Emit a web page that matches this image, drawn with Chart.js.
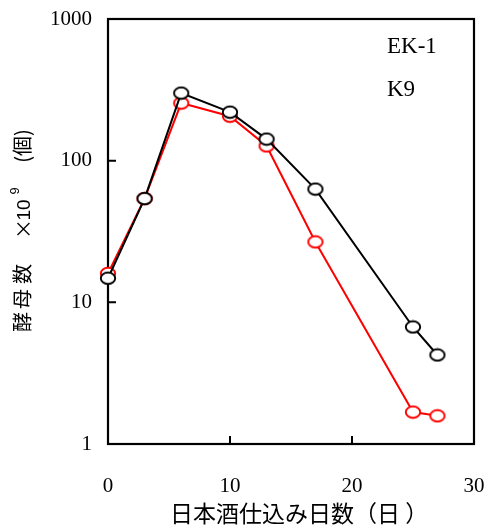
<!DOCTYPE html>
<html>
<head>
<meta charset="utf-8">
<script src="https://cdn.jsdelivr.net/npm/chart.js@4.4.1/dist/chart.umd.min.js"></script>
<style>
  html, body { margin: 0; padding: 0; background: #fff; }
  #wrap { width: 488px; height: 525px; }
</style>
</head>
<body>
<div id="wrap"><canvas id="grafico"></canvas></div>
<script>
const days = [0, 3, 6, 10, 13, 17, 25, 27];
const ek1 = [14.8, 54, 300, 220, 142, 63, 6.7, 4.25];
const k9 = [16, 54, 255, 206, 127, 26.7, 1.68, 1.58];
const seriesNames = ["EK-1", "K9"];
const yTicks = [1, 10, 100, 1000];
const xTicks = [0, 10, 20, 30];

const serif = "'Liberation Serif', 'DejaVu Serif', serif";
const sans = "'Noto Sans CJK JP', 'Noto Sans', sans-serif";

function ellipseMarker(color) {
    const c = document.createElement("canvas");
    c.width = 18;
    c.height = 15;
    const g = c.getContext("2d");
    g.beginPath();
    g.ellipse(9, 7.5, 7.2, 5.7, 0, 0, Math.PI * 2);
    g.fillStyle = "#fff";
    g.fill();
    g.lineWidth = 1.9;
    g.strokeStyle = color;
    g.stroke();
    return c;
}

const framePlugin = {
    id: "frame",
    beforeDatasetsDraw(chart) {
        const { ctx, chartArea: a, scales } = chart;
        ctx.save();
        ctx.strokeStyle = "#000";
        ctx.lineWidth = 2.2;
        ctx.strokeRect(a.left, a.top, a.right - a.left, a.bottom - a.top);
        ctx.lineWidth = 2;
        ctx.beginPath();
        yTicks.forEach(v => {
            const y = scales.y.getPixelForValue(v);
            ctx.moveTo(a.left, y);
            ctx.lineTo(a.left + 8, y);
        });
        xTicks.forEach(v => {
            const x = scales.x.getPixelForValue(v);
            ctx.moveTo(x, a.bottom);
            ctx.lineTo(x, a.bottom - 8);
        });
        ctx.stroke();
        ctx.restore();
    },
    afterDraw(chart) {
        const ctx = chart.ctx;
        ctx.save();
        ctx.fillStyle = "#000";
        // legend texts
        ctx.font = "23px " + serif;
        ctx.textAlign = "left";
        ctx.textBaseline = "middle";
        ctx.fillText(seriesNames[0], 387, 47);
        ctx.fillText(seriesNames[1], 387, 90);

        // x title
        ctx.font = "23px " + sans;
        ctx.textBaseline = "middle";
        ctx.fillText("日本酒仕込み日数（日 ）", 170, 513);

        // y title (rotated)
        ctx.translate(22, 0);
        ctx.rotate(-Math.PI / 2);
        ctx.textAlign = "center";
        ctx.textBaseline = "middle";
        ctx.font = "20px " + sans;
        ctx.fillText("酵", -322, 0);
        ctx.fillText("母", -299, 0);
        ctx.fillText("数", -274, 0);
        ctx.fillText("×", -229, 1);
        ctx.font = "19px 'Liberation Sans', Arial, sans-serif";
        ctx.fillText("10", -210, 3);
        ctx.font = "13px 'Liberation Sans', Arial, sans-serif";
        ctx.fillText("9", -191, -7);
        ctx.font = "20px " + sans;
        ctx.fillText("(個)", -146, 0);
        ctx.restore();
    }
};

new Chart(document.getElementById("grafico"), {
    type: "line",
    data: {
        datasets: [
            {
                label: seriesNames[0],
                data: days.map((d, i) => ({ x: d, y: ek1[i] })),
                borderColor: "#000",
                borderWidth: 2,
                pointStyle: ellipseMarker("#000"),
                tension: 0,
                clip: false,
                order: 0
            },
            {
                label: seriesNames[1],
                data: days.map((d, i) => ({ x: d, y: k9[i] })),
                borderColor: "#ff0000",
                borderWidth: 2,
                pointStyle: ellipseMarker("#ff0000"),
                tension: 0,
                clip: false,
                order: 1
            }
        ]
    },
    options: {
        responsive: true,
        maintainAspectRatio: false,
        animation: false,
        layout: { padding: { top: 19, right: 14, left: 0, bottom: 0 } },
        plugins: {
            legend: { display: false },
            tooltip: { enabled: false }
        },
        scales: {
            x: {
                type: "linear",
                min: 0,
                max: 30,
                afterBuildTicks: s => { s.ticks = xTicks.map(v => ({ value: v })); },
                afterFit: s => { s.height = 81; s.paddingLeft = 0; s.paddingRight = 0; },
                grid: { display: false, drawTicks: false },
                border: { display: false },
                ticks: {
                    padding: 30,
                    maxRotation: 0,
                    color: "#000",
                    font: { family: serif, size: 21 }
                }
            },
            y: {
                type: "logarithmic",
                min: 1,
                max: 1000,
                afterBuildTicks: s => { s.ticks = yTicks.map(v => ({ value: v })); },
                afterFit: s => { s.width = 108; s.paddingTop = 0; s.paddingBottom = 0; },
                grid: { display: false, drawTicks: false },
                border: { display: false },
                ticks: {
                    padding: 16,
                    color: "#000",
                    font: { family: serif, size: 21 },
                    callback: v => String(v)
                }
            }
        }
    },
    plugins: [framePlugin]
});
</script>
</body>
</html>
